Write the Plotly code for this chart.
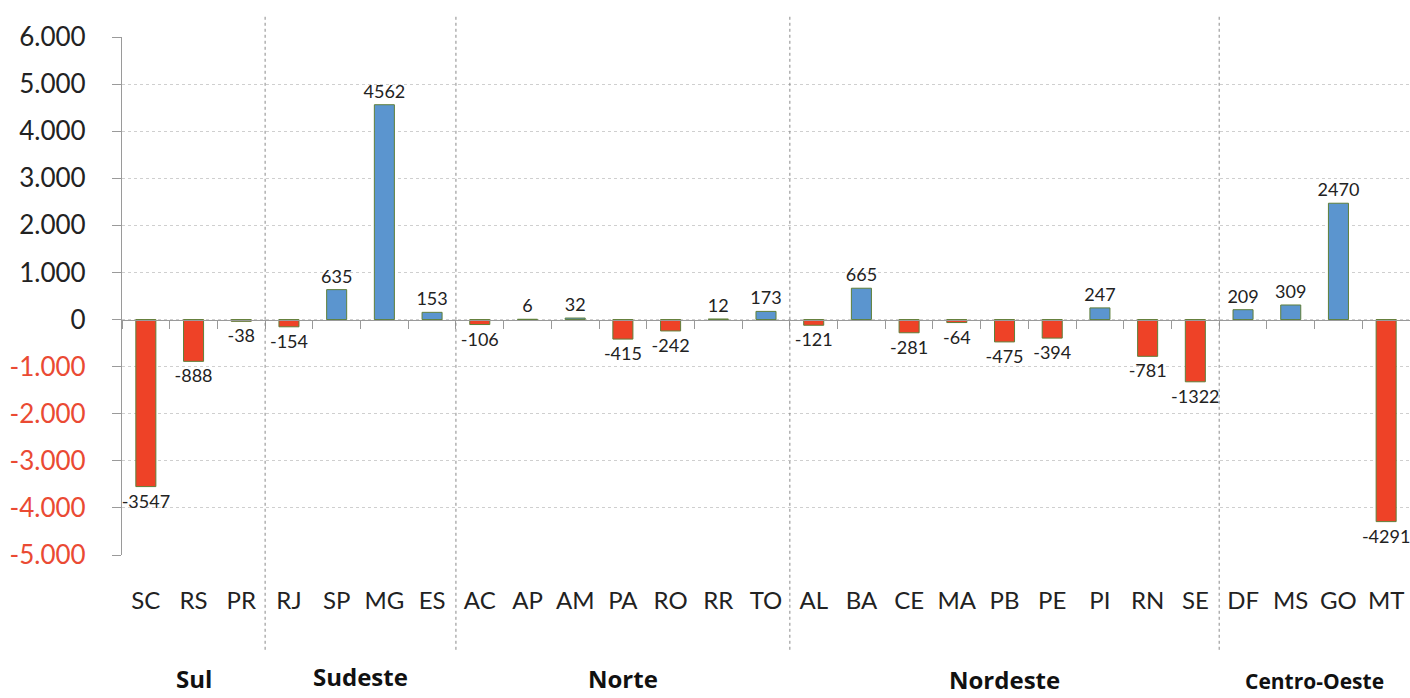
import plotly.graph_objects as go

# ---- data ----
groups = ["Sul", "Sudeste", "Norte", "Nordeste", "Centro-Oeste"]
group_states = [
    ["SC", "RS", "PR"],
    ["RJ", "SP", "MG", "ES"],
    ["AC", "AP", "AM", "PA", "RO", "RR", "TO"],
    ["AL", "BA", "CE", "MA", "PB", "PE", "PI", "RN", "SE"],
    ["DF", "MS", "GO", "MT"],
]
values = [-3547, -888, -38,
          -154, 635, 4562, 153,
          -106, 6, 32, -415, -242, 12, 173,
          -121, 665, -281, -64, -475, -394, 247, -781, -1322,
          209, 309, 2470, -4291]
y_ticks = [6000, 5000, 4000, 3000, 2000, 1000, 0, -1000, -2000, -3000, -4000, -5000]

states = [s for g in group_states for s in g]
n = len(states)

BLUE = "#5b95cf"
RED = "#ee4227"
NEG_TXT = "#ea4a33"
FONT = "Lato"

colors = [BLUE if v >= 0 else RED for v in values]


def fmt(v):
    s = f"{abs(v):,}".replace(",", ".")
    return ("-" + s) if v < 0 else s


tick_text = [
    (f"<span style='color:{NEG_TXT}'>{fmt(v)}</span>" if v < 0 else fmt(v))
    for v in y_ticks
]

fig = go.Figure()
fig.add_trace(go.Bar(
    x=states, y=values,
    marker=dict(color=colors, line=dict(color="#5f7f3a", width=1)),
    width=0.42,
    text=[str(v) for v in values],
    textposition="outside",
    constraintext="none",
    textfont=dict(family=FONT, size=18, color="#222222"),
    cliponaxis=False,
    showlegend=False,
))
# invisible trace to hold the zero-line axis
fig.add_trace(go.Scatter(x=[-0.5, n - 0.5], y=[0, 0], xaxis="x2", mode="lines",
                         line=dict(width=0), hoverinfo="skip", showlegend=False))

ymin, ymax = -5000, 6000
fig.update_layout(
    width=1410, height=698,
    margin=dict(l=122, r=0, t=37, b=143),
    paper_bgcolor="white", plot_bgcolor="white",
    font=dict(family=FONT, color="#222222"),
    uniformtext=dict(minsize=16, mode="show"),
    xaxis=dict(
        type="category", categoryorder="array", categoryarray=states,
        range=[-0.5, n - 0.5],
        showgrid=False, zeroline=False, showline=False, ticks="",
        tickfont=dict(family=FONT, size=24, color="#222222"),
        ticklabelstandoff=29,
    ),
    xaxis2=dict(
        overlaying="x", anchor="free", position=(0 - ymin) / (ymax - ymin),
        range=[-0.5, n - 0.5], showgrid=False, zeroline=False,
        showline=True, linecolor="#9a9a9a", linewidth=1.3,
        ticks="outside", ticklen=8, tickcolor="#9a9a9a", tickwidth=1,
        tickvals=[i + 0.5 for i in range(-1, n)], showticklabels=False,
    ),
    yaxis=dict(
        range=[ymin, ymax], tickvals=y_ticks, ticktext=tick_text,
        showgrid=True, gridcolor="#cfcfcf", griddash="dot", gridwidth=1,
        zeroline=False, showline=True, linecolor="#9a9a9a", linewidth=1.3,
        ticks="outside", ticklen=9, tickcolor="#9a9a9a",
        tickfont=dict(family=FONT, size=26, color="#222222"),
        ticklabelstandoff=21,
    ),
)

# group separators and labels
shapes = []
annotations = []
start = 0
label_y = [-0.238, -0.234, -0.238, -0.240, -0.243]
for gi, (g, sts) in enumerate(zip(groups, group_states)):
    end = start + len(sts)
    if gi > 0:
        xf = start / n
        shapes.append(dict(type="line", xref="paper", yref="paper",
                           x0=xf, x1=xf, y0=-0.183, y1=1.0425,
                           line=dict(color="#8a8a8a", width=1, dash="dot")))
    center = (start + end) / 2 / n
    annotations.append(dict(text=f"<b>{g}</b>", xref="paper", yref="paper",
                            x=center, y=label_y[gi], xanchor="center", yanchor="middle",
                            showarrow=False,
                            font=dict(family="Open Sans", size=21 if g == "Centro-Oeste" else 24,
                                      color="#111111")))
    start = end

fig.update_layout(shapes=shapes, annotations=annotations)
fig.write_html("out.html", config={"displayModeBar": False},
               post_script="document.body.style.margin='0';document.body.style.overflow='hidden';")
